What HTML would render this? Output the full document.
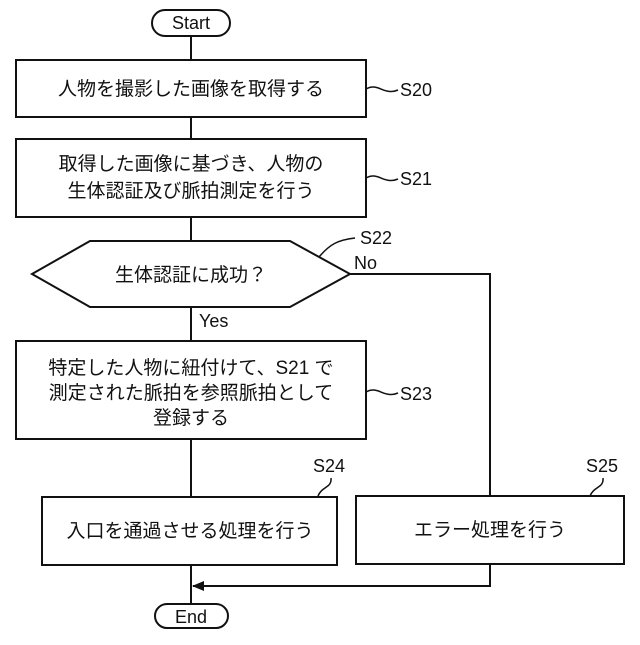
<!DOCTYPE html>
<html><head><meta charset="utf-8"><style>
body{margin:0;background:#fff}
svg text{font-family:"Liberation Sans","Noto Sans CJK JP",sans-serif;fill:#111}
</style></head><body>
<svg width="640" height="640" viewBox="0 0 640 640" xmlns="http://www.w3.org/2000/svg">
<defs><marker id="a" markerWidth="12" markerHeight="10" refX="11" refY="5" orient="auto" markerUnits="userSpaceOnUse"><path d="M0,0 L12,5 L0,10 Z" fill="#111"/></marker></defs>
<g stroke="#111" stroke-width="2" fill="none">
<rect x="152" y="10" width="78" height="26" rx="13" fill="#fff"/>
<line x1="191" y1="36" x2="191" y2="60"/>
<rect x="16" y="60" width="350" height="57"/>
<line x1="191" y1="117" x2="191" y2="139"/>
<rect x="16" y="139" width="350" height="78"/>
<line x1="191" y1="217" x2="191" y2="241"/>
<polygon points="32,274 90,241 290,241 350,274 290,307 90,307"/>
<line x1="191" y1="307" x2="191" y2="341"/>
<rect x="16" y="341" width="350" height="98"/>
<line x1="191" y1="439" x2="191" y2="497"/>
<rect x="42" y="497" width="295" height="68"/>
<rect x="356" y="496" width="268" height="68"/>
<polyline points="350,274 490,274 490,496"/>
<line x1="191" y1="565" x2="191" y2="604"/>
<polyline points="490,564 490,586 193,586" marker-end="url(#a)"/>
<rect x="155" y="604" width="73" height="24" rx="12" fill="#fff"/>
<g stroke-width="1.5">
<path d="M366,89 C378,82 384,96 398,90"/>
<path d="M366,178 C378,171 384,185 398,179"/>
<path d="M319,257 C330,244 338,240 355,238"/>
<path d="M366,392 C378,385 384,399 398,393"/>
<path d="M318,496 C322,486 332,488 331,478"/>
<path d="M590,496 C594,486 604,488 603,478"/>
</g>
</g>
<g font-size="18">
<text x="191" y="29" text-anchor="middle">Start</text>
<text x="191" y="623" text-anchor="middle">End</text>
<text x="400" y="96">S20</text>
<text x="400" y="185">S21</text>
<text x="360" y="244">S22</text>
<text x="354" y="269">No</text>
<text x="199" y="327">Yes</text>
<text x="400" y="400">S23</text>
<text x="313" y="472">S24</text>
<text x="586" y="472">S25</text>
</g>
<g font-size="19">
<text x="191" y="95" text-anchor="middle">人物を撮影した画像を取得する</text>
<text x="191" y="170" text-anchor="middle">取得した画像に基づき、人物の</text>
<text x="191" y="197" text-anchor="middle">生体認証及び脈拍測定を行う</text>
<text x="191" y="281" text-anchor="middle">生体認証に成功？</text>
<text x="191" y="374" text-anchor="middle">特定した人物に紐付けて、S21 で</text>
<text x="191" y="399" text-anchor="middle">測定された脈拍を参照脈拍として</text>
<text x="191" y="424" text-anchor="middle">登録する</text>
<text x="190" y="537" text-anchor="middle">入口を通過させる処理を行う</text>
<text x="490" y="536" text-anchor="middle">エラー処理を行う</text>
</g>
</svg>
</body></html>
